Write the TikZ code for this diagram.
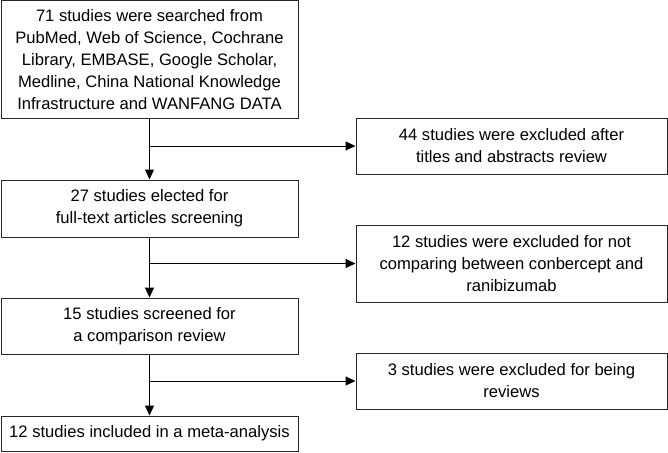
\documentclass[tikz,border=0pt]{standalone}
\usepackage{fontspec}
\setmainfont{Liberation Sans}
\usetikzlibrary{arrows.meta}
\begin{document}
\begin{tikzpicture}[x=1pt,y=-1pt,
  box/.style={draw=black!85,line width=1pt,inner sep=0pt,align=center,
    font=\fontsize{16.6}{22}\selectfont,text=black},
  conn/.style={draw=black,line width=1pt,-{Triangle[length=10pt,width=9pt]}}]
\useasboundingbox (0,0) rectangle (668,452);
\node[box,minimum width=297pt,minimum height=117pt] (b1) at (149.5,59.5)
  {71 studies were searched from\\PubMed, Web of Science, Cochrane\\Library, EMBASE, Google Scholar,\\Medline, China National Knowledge\\Infrastructure and WANFANG DATA};
\node[box,minimum width=311pt,minimum height=56pt] (r1) at (511.5,146)
  {44 studies were excluded after\\titles and abstracts review};
\node[box,minimum width=297pt,minimum height=57pt] (b2) at (149.5,208.5)
  {27 studies elected for\\full-text articles screening};
\node[box,minimum width=311pt,minimum height=77pt] (r2) at (511.5,263.5)
  {12 studies were excluded for not\\comparing between conbercept and\\ranibizumab};
\node[box,minimum width=297pt,minimum height=56pt] (b3) at (149.5,326)
  {15 studies screened for\\a comparison review};
\node[box,minimum width=311pt,minimum height=56pt] (r3) at (511.5,381)
  {3 studies were excluded for being\\reviews};
\node[box,minimum width=297pt,minimum height=35pt] (b4) at (149.5,433.5)
  {12 studies included in a meta-analysis};
\draw[conn] (b1.south) -- (b2.north);
\draw[conn] (b1.south |- r1.west) -- (r1.west);
\draw[conn] (b2.south) -- (b3.north);
\draw[conn] (b2.south |- r2.west) -- (r2.west);
\draw[conn] (b3.south) -- (b4.north);
\draw[conn] (b3.south |- r3.west) -- (r3.west);
\end{tikzpicture}
\end{document}
